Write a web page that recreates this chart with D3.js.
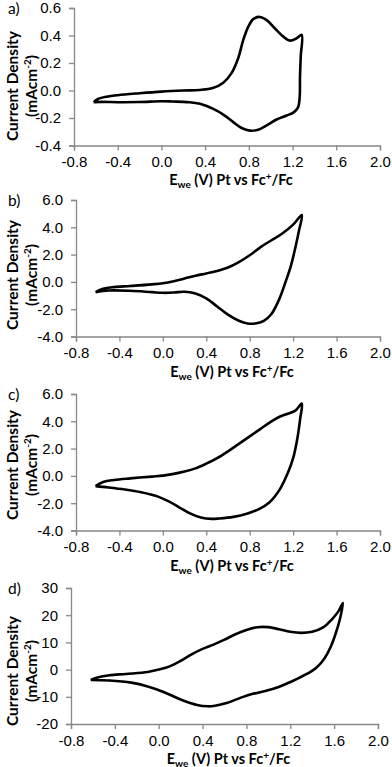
<!DOCTYPE html>
<html>
<head>
<meta charset="utf-8">
<script src="https://cdn.jsdelivr.net/npm/d3@7"></script>
<style>
  body { margin: 0; background: #fff; }
  svg { display: block; font-family: Lato, "Open Sans", sans-serif; }
  .tick text { font-size: 15px; fill: #000; }
  .domain, .tick line { stroke: #888; stroke-width: 1.3; }
</style>
</head>
<body>
<svg id="chart" width="392" height="767"></svg>
<script>
// x axis ticks are the same on every panel
const xTicks = [-0.8, -0.4, 0.0, 0.4, 0.8, 1.2, 1.6, 2.0];

// panel a
const yTicksA = [-0.4, -0.2, 0.0, 0.2, 0.4, 0.6];
const potentialA = [-0.62, -0.58, -0.5, -0.4, -0.2, 0.0, 0.2, 0.35, 0.47, 0.566, 0.643, 0.703, 0.749, 0.795, 0.84, 0.9, 0.963, 1.039, 1.115, 1.176, 1.237, 1.283,
  1.275, 1.268, 1.265, 1.25, 1.21, 1.146, 1.054, 0.963, 0.886, 0.81, 0.734, 0.657, 0.566, 0.474, 0.353, 0.25, 0.1, 0.0, -0.2, -0.4, -0.55, -0.62];
const currentA = [-0.085, -0.062, -0.045, -0.034, -0.02, -0.008, 0.0, 0.004, 0.018, 0.057, 0.128, 0.236, 0.368, 0.464, 0.519, 0.535, 0.512, 0.451, 0.392, 0.363, 0.38, 0.404,
  0.25, 0.1, -0.05, -0.123, -0.159, -0.182, -0.211, -0.254, -0.285, -0.292, -0.273, -0.23, -0.175, -0.134, -0.097, -0.085, -0.08, -0.078, -0.084, -0.085, -0.083, -0.085];

// panel b
const yTicksB = [-4, -2, 0, 2, 4, 6];
const potentialB = [-0.62, -0.55, -0.45, -0.3, -0.1, 0.0, 0.1, 0.2, 0.3, 0.4, 0.5, 0.6, 0.7, 0.8, 0.9, 1.0, 1.1, 1.2, 1.28,
  1.255, 1.22, 1.18, 1.13, 1.07, 1.0, 0.93, 0.85, 0.78, 0.7, 0.6, 0.5, 0.4, 0.3, 0.2, 0.1, 0.0, -0.1, -0.3, -0.5, -0.62];
const currentB = [-0.75, -0.5, -0.38, -0.3, -0.18, -0.1, 0.05, 0.25, 0.45, 0.62, 0.8, 1.05, 1.45, 1.95, 2.55, 3.05, 3.55, 4.2, 4.9,
  3.8, 2.5, 1.2, 0.0, -1.3, -2.35, -2.85, -3.05, -3.05, -2.85, -2.4, -1.8, -1.2, -0.85, -0.72, -0.78, -0.8, -0.75, -0.65, -0.63, -0.75];

// panel c
const yTicksC = [-4, -2, 0, 2, 4, 6];
const potentialC = [-0.62, -0.55, -0.45, -0.3, -0.1, 0.0, 0.1, 0.2, 0.3, 0.4, 0.5, 0.6, 0.7, 0.8, 0.9, 1.0, 1.08, 1.15, 1.22, 1.28,
  1.265, 1.24, 1.2, 1.15, 1.08, 0.98, 0.88, 0.78, 0.65, 0.52, 0.45, 0.35, 0.25, 0.15, 0.05, -0.05, -0.2, -0.35, -0.5, -0.62];
const currentC = [-0.75, -0.45, -0.3, -0.18, -0.05, 0.02, 0.15, 0.32, 0.55, 0.9, 1.3, 1.8, 2.35, 2.9, 3.45, 4.0, 4.35, 4.55, 4.78, 5.3,
  4.2, 2.8, 1.3, 0.2, -0.95, -1.95, -2.45, -2.75, -3.0, -3.12, -3.15, -3.05, -2.75, -2.3, -1.85, -1.5, -1.2, -1.0, -0.85, -0.75];

// panel d
const yTicksD = [-20, -10, 0, 10, 20, 30];
const potentialD = [-0.62, -0.55, -0.45, -0.3, -0.1, 0.0, 0.1, 0.2, 0.3, 0.4, 0.5, 0.6, 0.7, 0.8, 0.9, 1.0, 1.1, 1.2, 1.3, 1.4, 1.5, 1.58, 1.64, 1.68,
  1.655, 1.62, 1.57, 1.51, 1.44, 1.35, 1.22, 1.1, 0.98, 0.85, 0.75, 0.62, 0.5, 0.45, 0.35, 0.2, 0.05, -0.1, -0.25, -0.45, -0.62];
const currentD = [-3.8, -2.8, -2.1, -1.6, -0.9, 0.0, 1.2, 3.2, 5.6, 7.6, 9.2, 11.0, 13.0, 14.6, 15.6, 15.6, 14.8, 13.9, 13.5, 13.9, 15.5, 18.5, 21.5, 24.5,
  19, 14, 8.5, 4.0, 0.8, -1.6, -4.2, -6.3, -7.8, -9.0, -10.3, -12.3, -13.4, -13.5, -13.0, -11.0, -8.3, -6.2, -4.8, -4.0, -3.8];

// plain hyphen for negatives, like the original
const loc = d3.formatLocale({ decimal: '.', thousands: ',', grouping: [3], currency: ['', ''], minus: '-' });

const panels = [
  { label: 'a)', xs: potentialA, ys: currentA, yTicks: yTicksA, fmt: loc.format('.1f'), left: 74, right: 380, top: 8, bottom: 145.5, titleY: 86, titleBase: 185 },
  { label: 'b)', xs: potentialB, ys: currentB, yTicks: yTicksB, fmt: loc.format('.1f'), left: 76, right: 380, top: 200, bottom: 336.5, titleY: 275, titleBase: 377 },
  { label: 'c)', xs: potentialC, ys: currentC, yTicks: yTicksC, fmt: loc.format('.1f'), left: 76, right: 380, top: 394, bottom: 530.5, titleY: 465, titleBase: 571 },
  { label: 'd)', xs: potentialD, ys: currentD, yTicks: yTicksD, fmt: loc.format('d'), left: 71, right: 378, top: 588, bottom: 724, titleY: 671, titleBase: 764 }
];

const svg = d3.select('#chart');

panels.forEach((p, k) => {
  const x = d3.scaleLinear().domain([-0.8, 2.0]).range([p.left, p.right]);
  const y = d3.scaleLinear().domain(d3.extent(p.yTicks)).range([p.bottom, p.top]);
  const g = svg.append('g');

  g.append('g')
    .attr('transform', 'translate(0,' + p.bottom + ')')
    .call(d3.axisBottom(x).tickValues(xTicks).tickFormat(loc.format('.1f')).tickSizeInner(5).tickSizeOuter(5).tickPadding(4))
    .selectAll('text').attr('dy', '0.85em');

  g.append('g')
    .attr('transform', 'translate(' + p.left + ',0)')
    .call(d3.axisLeft(y).tickValues(p.yTicks).tickFormat(p.fmt).tickSizeInner(5).tickSizeOuter(5).tickPadding(8));

  const line = d3.line()
    .x((d, i) => x(p.xs[i]))
    .y((d, i) => y(p.ys[i]))
    .curve(d3.curveCatmullRom.alpha(0.5));

  g.append('path')
    .datum(p.xs)
    .attr('d', line)
    .attr('fill', 'none')
    .attr('stroke', '#000')
    .attr('stroke-width', 2.6)
    .attr('stroke-linejoin', 'round');

  // panel letter
  g.append('text')
    .attr('x', 8)
    .attr('y', p.top + 6)
    .attr('font-size', 15.5)
    .text(p.label);

  // x axis title
  const xt = g.append('text')
    .attr('x', (p.left + p.right) / 2 + 4)
    .attr('y', p.titleBase)
    .attr('text-anchor', 'middle')
    .attr('font-size', 14.5)
    .attr('font-weight', 'bold');
  xt.append('tspan').text('E');
  xt.append('tspan').attr('font-size', 10).attr('dy', 2.5).text('we');
  xt.append('tspan').attr('dy', -2.5).text(' (V) Pt vs Fc');
  xt.append('tspan').attr('font-size', 10).attr('dy', -5).text('+');
  xt.append('tspan').attr('dy', 5).text('/Fc');

  // y axis title, two lines
  const yt = g.append('text')
    .attr('transform', 'translate(0,' + p.titleY + ') rotate(-90)')
    .attr('text-anchor', 'middle')
    .attr('font-size', 15.5)
    .attr('font-weight', 'bold');
  yt.append('tspan').attr('x', 0).attr('y', 18).text('Current  Density');
  const l2 = yt.append('tspan').attr('x', 0).attr('y', 37);
  l2.append('tspan').text('(mAcm');
  l2.append('tspan').attr('font-size', 10).attr('dy', -6).text('-2');
  l2.append('tspan').attr('dy', 6).text(')');
});
</script>
</body>
</html>
